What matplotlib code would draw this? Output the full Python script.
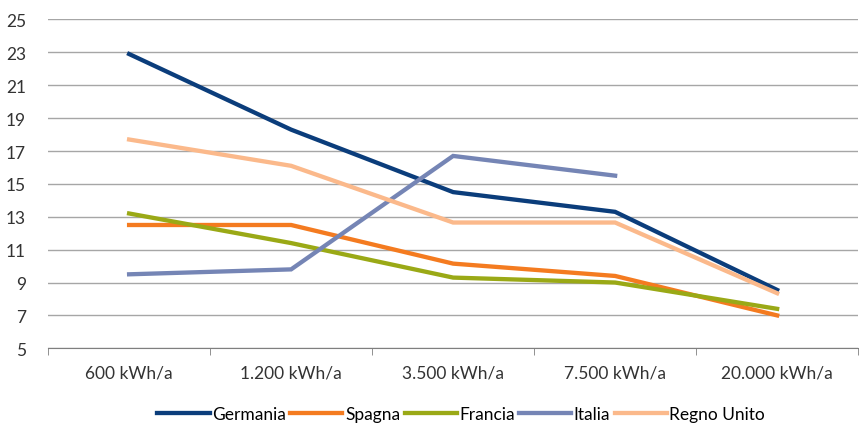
import matplotlib.pyplot as plt
from matplotlib.ticker import FixedLocator

categories = ['600 kWh/a', '1.200 kWh/a', '3.500 kWh/a', '7.500 kWh/a', '20.000 kWh/a']

germania = [22.9, 18.3, 14.5, 13.3, 8.55]
spagna = [12.5, 12.5, 10.15, 9.4, 7.0]
francia = [13.2, 11.4, 9.3, 9.0, 7.4]
italia = [9.5, 9.8, 16.7, 15.5, None]
regno_unito = [17.7, 16.1, 12.65, 12.65, 8.35]

series = [
    ('Germania', germania, '#0b3d7b'),
    ('Spagna', spagna, '#f47b20'),
    ('Francia', francia, '#9aa916'),
    ('Italia', italia, '#7585b5'),
    ('Regno Unito', regno_unito, '#fbb98b'),
]

plt.rcParams['font.family'] = ['Lato', 'DejaVu Sans']

fig = plt.figure(figsize=(8.59, 4.27), dpi=100)
ax = fig.add_axes([0.056, 0.182, 0.943, 0.770])

x = list(range(len(categories)))
for i, (name, values, color) in enumerate(series):
    xs = [xi for xi, v in zip(x, values) if v is not None]
    ys = [v for v in values if v is not None]
    ax.plot(xs, ys, color=color, linewidth=3.1, label=name, zorder=3 + i,
            solid_joinstyle='miter')

ax.set_xlim(-0.5, len(categories) - 0.5)
ax.set_ylim(5, 25)
ax.set_yticks(range(5, 26, 2))
ax.set_xticks(x)
ax.set_xticklabels(categories)
ax.xaxis.set_minor_locator(FixedLocator([i - 0.5 for i in range(len(categories) + 1)]))

ax.grid(axis='y', color='#a6a6a6', linewidth=1.0)
ax.set_axisbelow(True)
for side in ('top', 'right', 'left'):
    ax.spines[side].set_visible(False)
ax.spines['bottom'].set_color('#7f7f7f')

ax.tick_params(axis='y', length=0, pad=16, labelsize=12.5, colors='#333333')
ax.tick_params(axis='x', which='major', length=0, pad=12, labelsize=12.5, colors='#333333')
ax.tick_params(axis='x', which='minor', length=5, color='#7f7f7f')

fig.legend(loc='center', bbox_to_anchor=(0.537, 0.028), ncol=5, frameon=False,
           fontsize=12.5, handlelength=3.0, handletextpad=0.15, columnspacing=0.25)

fig.savefig('out.png', dpi=100)
